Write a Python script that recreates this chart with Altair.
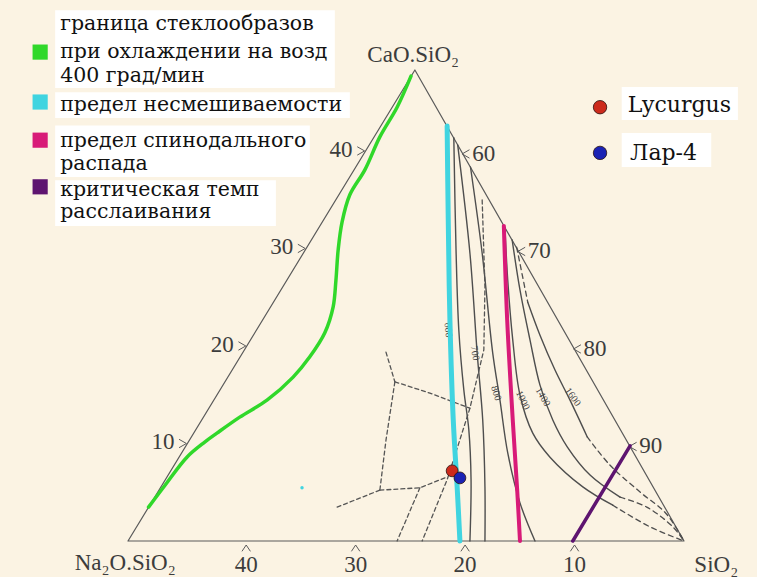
import altair as alt
import pandas as pd

# Corner compounds of the Na2O·SiO2 – CaO·SiO2 – SiO2 section, wt%
NS_NA2O = 50.8   # Na2O in Na2O·SiO2
CS_CAO = 48.3    # CaO in CaO·SiO2
CS_SIO2 = 51.7   # SiO2 in CaO·SiO2

# Drawing frame: x runs along the base (Na2O·SiO2 = 0 .. SiO2 = 100),
# y runs upward (base = 0, CaO·SiO2 corner = 100)
W, H = 757, 577
APEX_X = 51.6
X_DOMAIN = [-23.02, 113.13]
Y_DOMAIN = [-7.64, 114.86]
PXX = (X_DOMAIN[1] - X_DOMAIN[0]) / W   # one screen pixel in x units
PXY = (Y_DOMAIN[1] - Y_DOMAIN[0]) / H   # one screen pixel in y units

corner_x = [0.0, APEX_X, 100.0, 0.0]
corner_y = [0.0, 100.0, 0.0, 0.0]

# glass-formation limit, air cooling 400 deg/min
glass_x = [3.7, 6.7, 10.6, 13.8, 16.0, 20.1, 25.0, 29.7, 32.7, 35.4, 36.9, 37.4,
           37.8, 38.5, 39.9, 42.6, 45.3, 48.4, 50.9]
glass_y = [7.2, 11.9, 17.8, 21.0, 22.9, 26.3, 29.9, 34.8, 39.1, 44.2, 49.7, 55.4,
           61.8, 67.7, 73.5, 78.8, 85.8, 92.1, 98.7]

# immiscibility limit
immisc_x = [57.4, 57.6, 57.9, 58.5, 59.2, 59.7]
immisc_y = [88.1, 68.2, 46.9, 25.7, 11.5, 0.0]

# spinodal limit
spin_x = [67.6, 68.2, 69.2, 70.0, 70.5]
spin_y = [66.9, 46.9, 25.7, 10.8, 0.0]

# critical temperature of phase separation
crit_x = [80.0, 90.3]
crit_y = [0.0, 20.2]

# immiscibility isotherms (solid parts)
iso_solid = {
    "a": ([58.6, 59.0, 59.5, 60.4, 61.3, 61.7, 61.5], [85.6, 61.8, 44.8, 32.1, 23.6, 13.0, 0.0]),
    "700": ([59.3, 61.5, 62.8, 63.8, 64.2, 64.2], [84.1, 61.1, 39.9, 25.7, 11.5, 0.0]),
    "800": ([61.6, 63.7, 65.6, 66.9, 68.3, 70.5, 73.2], [79.4, 61.1, 39.9, 29.9, 18.7, 8.1, 0.0]),
    "1000": ([67.8, 68.3, 69.2, 70.5, 72.8, 75.9, 81.8, 87.2], [66.5, 55.4, 42.7, 31.0, 22.9, 17.8, 11.5, 7.6]),
    "1400": ([69.1, 70.5, 72.3, 74.1, 76.4, 79.0, 83.1, 88.5], [63.9, 53.3, 42.7, 33.1, 25.7, 20.0, 14.0, 9.3]),
    "1600": ([71.9, 74.1, 76.8, 79.5, 82.6], [50.7, 43.7, 36.3, 29.9, 22.1]),
}
# extrapolated parts of the isotherms
iso_dashed = {
    "1000": ([87.2, 93.9, 100.0], [7.6, 3.0, 0.0]),
    "1400": ([88.5, 93.3, 98.0, 100.0], [9.3, 7.2, 3.0, 0.0]),
    "1600a": ([69.9, 71.9], [62.4, 50.7]),
    "1600b": ([82.6, 86.7, 92.1, 96.8, 100.0], [22.1, 16.1, 10.4, 5.8, 0.0]),
}
# boundaries of the primary phase fields
fields = {
    "d": ([63.7, 64.2, 64.0, 61.5, 57.4, 52.9], [72.4, 53.9, 40.6, 28.2, 13.0, 0.0]),
    "j1": ([46.4, 48.0], [40.1, 33.8]),
    "j1j2": ([48.0, 54.3, 61.5], [33.8, 31.4, 28.2]),
    "j1j3": ([48.0, 46.4, 45.3], [33.8, 21.4, 10.8]),
    "j3l": ([45.3, 37.2], [10.8, 7.0]),
    "j3k": ([45.3, 52.5, 57.4], [10.8, 11.3, 13.6]),
    "kb": ([52.5, 48.4], [11.3, 0.0]),
}

iso_labels = ["600", "700", "800", "1000", "1400", "1600"]
iso_label_x = [57.6, 62.4, 66.2, 71.0, 74.6, 80.0]
iso_label_y = [44.8, 39.9, 31.4, 29.9, 30.6, 30.6]
iso_label_angle = [85, 80, 72, 65, 60, 55]

# glass samples
sample_names = ["Lycurgus", "Лар-4"]
sample_x = [58.3, 59.7]
sample_y = [14.9, 13.4]
sample_colors = ["#cc2a1c", "#1a22b4"]

stray_x = [31.3]
stray_y = [11.3]

# edge scales
bottom_ticks = [40, 30, 20, 10]   # Na2O, wt%
left_ticks = [10, 20, 30, 40]     # CaO, wt%
right_ticks = [60, 70, 80, 90]    # SiO2, wt%

legend_labels = [
    ["граница стеклообразов", "при охлаждении на возд", "400 град/мин"],
    ["предел несмешиваемости"],
    ["предел спинодального", "распада"],
    ["критическая темп", "расслаивания"],
]
GREEN, CYAN, MAGENTA, PURPLE = "#30d82a", "#40d4e0", "#d81b78", "#5e1470"
legend_colors = [GREEN, CYAN, MAGENTA, PURPLE]
EDGE = "#5a5a5a"
ISO = "#4e4e4e"
SERIF = "Liberation Serif"
SERIF_CYR = "DejaVu Serif"

xs = alt.Scale(domain=X_DOMAIN, nice=False, zero=False)
ys = alt.Scale(domain=Y_DOMAIN, nice=False, zero=False)
X = alt.X("x:Q", scale=xs, axis=None)
Y = alt.Y("y:Q", scale=ys, axis=None)


def path(name, xv, yv):
    return pd.DataFrame({"path": name, "x": xv, "y": yv, "step": range(len(xv))})


def paths(d):
    return pd.concat([path(k, *v) for k, v in d.items()], ignore_index=True)


def lines(df, color, width, dash=None, interp="linear", opacity=1.0):
    kw = dict(color=color, strokeWidth=width, interpolate=interp,
              strokeCap="round", strokeJoin="round", opacity=opacity)
    if dash:
        kw["strokeDash"] = dash
    return alt.Chart(df).mark_line(**kw).encode(x=X, y=Y, detail="path:N", order="step:Q")


def lerp(p0, p1, t):
    return p0[0] + (p1[0] - p0[0]) * t, p0[1] + (p1[1] - p0[1]) * t


L, A, R = (0.0, 0.0), (APEX_X, 100.0), (100.0, 0.0)
tick_rows, mark_rows = [], []
for v in bottom_ticks:
    x, y = lerp(L, R, (NS_NA2O - v) / NS_NA2O)
    tick_rows.append(dict(x=x, y=y - 31 * PXY, label=str(v), align="center"))
    for k, (dx, dy) in enumerate([(-4, 10), (0, 4), (4, 10)]):
        mark_rows.append(dict(path=f"b{v}", step=k, x=x + dx * PXX, y=y - dy * PXY))
for v in left_ticks:
    x, y = lerp(L, A, v / CS_CAO)
    tick_rows.append(dict(x=x - 13 * PXX, y=y - 6 * PXY, label=str(v), align="right"))
    for k, (dx, dy) in enumerate([(-8, 4), (-1, 0), (-8, -4)]):
        mark_rows.append(dict(path=f"l{v}", step=k, x=x + dx * PXX, y=y + dy * PXY))
for v in right_ticks:
    x, y = lerp(A, R, (v - CS_SIO2) / (100 - CS_SIO2))
    tick_rows.append(dict(x=x + 11 * PXX, y=y - 10 * PXY, label=str(v), align="left"))
    for k, (dx, dy) in enumerate([(8, 1), (1, -3), (8, -7)]):
        mark_rows.append(dict(path=f"r{v}", step=k, x=x + dx * PXX, y=y + dy * PXY))
ticks = pd.DataFrame(tick_rows)
marks = pd.DataFrame(mark_rows)

layers = []

# legend panels
box_left = -13.1
legend_box = pd.DataFrame({
    "x0": [box_left, box_left, box_left, box_left, 88.8, 88.8],
    "x1": [37.2, 39.9, 32.7, 26.6, 109.7, 104.9],
    "y0": [96.2, 89.8, 77.3, 66.9, 89.4, 79.4],
    "y1": [112.7, 95.3, 88.2, 76.6, 96.4, 86.6],
})
layers.append(alt.Chart(legend_box).mark_rect(color="white").encode(
    x=alt.X("x0:Q", scale=xs, axis=None), x2="x1:Q",
    y=alt.Y("y0:Q", scale=ys, axis=None), y2="y1:Q"))

# triangle
layers.append(lines(path("edge", corner_x, corner_y), EDGE, 1.2))
layers.append(lines(marks, EDGE, 1.0))

# isotherms and field boundaries
layers.append(lines(paths(iso_solid), ISO, 1.4, interp="catmull-rom"))
layers.append(lines(paths(iso_dashed), ISO, 1.3, dash=[5, 4], interp="catmull-rom"))
layers.append(lines(paths(fields), "#555555", 1.3, dash=[4, 3]))

iso_lab = pd.DataFrame({"x": iso_label_x, "y": iso_label_y, "label": iso_labels,
                        "angle": iso_label_angle})
layers.append(alt.Chart(iso_lab).mark_text(font=SERIF, fontSize=10, color="#444444").encode(
    x=X, y=Y, text="label:N", angle=alt.Angle("angle:Q", scale=None)))

# coloured limits
layers.append(lines(path("glass", glass_x, glass_y), GREEN, 3.5, interp="catmull-rom"))
layers.append(lines(path("immisc", immisc_x, immisc_y), CYAN, 5, interp="catmull-rom"))
layers.append(lines(path("spin", spin_x, spin_y), MAGENTA, 4, interp="catmull-rom"))
layers.append(lines(path("crit", crit_x, crit_y), PURPLE, 3.5))
layers.append(alt.Chart(pd.DataFrame({"x": stray_x, "y": stray_y})).mark_circle(
    color=CYAN, size=12, opacity=1).encode(x=X, y=Y))

# samples
samples = pd.DataFrame({"x": sample_x, "y": sample_y, "name": sample_names, "c": sample_colors})
layers.append(alt.Chart(samples).mark_circle(size=140, opacity=1, stroke="#2a1010",
                                              strokeWidth=0.8).encode(
    x=X, y=Y, color=alt.Color("c:N", scale=None)))

# edge scale labels
for al in ["center", "left", "right"]:
    layers.append(alt.Chart(ticks[ticks["align"] == al]).mark_text(
        font=SERIF, fontSize=23, color="#3c3c3c", align=al, baseline="alphabetic").encode(
        x=X, y=Y, text="label:N"))

corner_lab = pd.DataFrame({
    "x": [-0.5, APEX_X - 0.3, 105.8],
    "y": [-6.1, 101.7, -6.5],
    "label": ["Na₂O.SiO₂", "CaO.SiO₂", "SiO₂"],
})
layers.append(alt.Chart(corner_lab).mark_text(
    font=SERIF, fontSize=23, color="#3c3c3c", baseline="alphabetic").encode(
    x=X, y=Y, text="label:N"))

# legend (left)
leg_y = [103.8, 93.2, 85.1, 75.2]
layers.append(alt.Chart(pd.DataFrame({"x": [-15.8] * 4, "y": leg_y, "c": legend_colors}))
              .mark_square(size=230, opacity=1).encode(x=X, y=Y, color=alt.Color("c:N", scale=None)))
line_base = [108.4, 102.6, 97.4, 91.2, 83.7, 78.8, 73.2, 68.6]
flat = [t for group in legend_labels for t in group]
leg_text = pd.DataFrame({"x": [-12.2] * len(flat), "y": line_base, "label": flat})
layers.append(alt.Chart(leg_text).mark_text(
    font=SERIF_CYR, fontSize=20.5, color="#111111", align="left", baseline="alphabetic").encode(
    x=X, y=Y, text="label:N"))

# legend (right)
layers.append(alt.Chart(pd.DataFrame({"x": [84.9, 84.9], "y": [92.1, 82.4], "c": sample_colors}))
              .mark_circle(size=180, opacity=1, stroke="#2a1010", strokeWidth=0.8)
              .encode(x=X, y=Y, color=alt.Color("c:N", scale=None)))
layers.append(alt.Chart(pd.DataFrame({"x": [89.9, 90.3], "y": [91.1, 80.9], "label": sample_names}))
              .mark_text(font=SERIF_CYR, fontSize=22, color="#111111", align="left",
                         baseline="alphabetic")
              .encode(x=X, y=Y, text="label:N"))

chart = alt.layer(*layers).properties(
    width=W, height=H, padding=0,
    autosize=alt.AutoSizeParams(type="none"),
).configure(background="#fbf3e3").configure_view(stroke=None)

chart.save("out.html", embed_options={"renderer": "svg", "actions": False})
